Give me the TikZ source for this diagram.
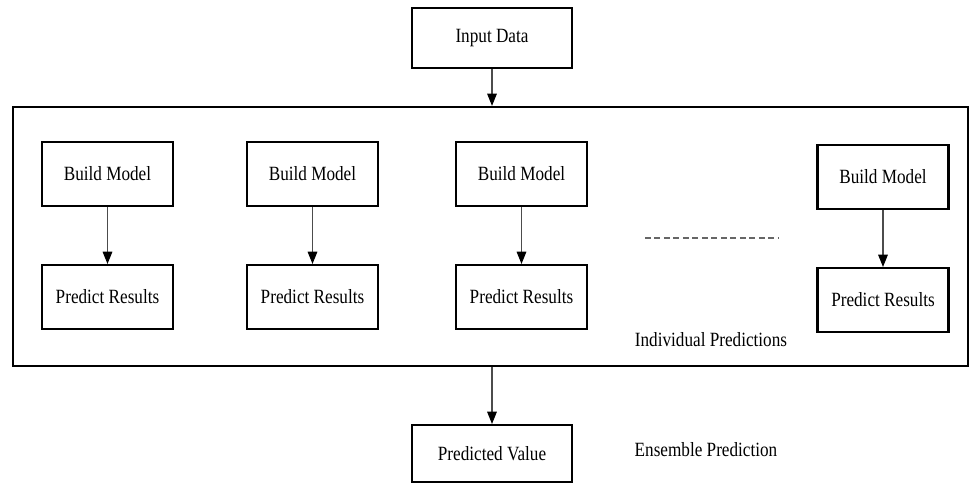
\documentclass[tikz,border=0pt]{standalone}
\usepackage{fontspec}
\setmainfont{Liberation Serif}[FakeStretch=0.85]
\usetikzlibrary{arrows.meta}

\tikzset{
	box/.style={draw, line width=1.2pt, fill=white, font=\fontsize{11.5}{13}\selectfont,
		minimum width=2.62cm, minimum height=1.28cm, inner sep=0pt},
	wide/.style={box, minimum width=3.2cm},
	arr/.style={draw=black!70, line width=0.6pt, -{Triangle[width=5.5pt,length=7pt,color=black]}},
	label/.style={font=\fontsize{11.5}{13}\selectfont, inner sep=0pt}
}

\begin{document}
\begin{tikzpicture}[x=0.02cm, y=-0.02cm]
	\useasboundingbox (0,0) rectangle (970,483);

	% outer frame
	\node[draw, line width=1.3pt, minimum width=19.1cm, minimum height=5.18cm, inner sep=0pt]
		(ens) at (490.5,236.5) { };

	\node[wide, minimum height=1.2cm] (input) at (492,38) {Input Data};
	\node[wide, minimum height=1.14cm] (value) at (492,453.5) {Predicted Value};

	% individual models
	\foreach \x/\y/\i in {107.5/174/1, 312.5/174/2, 521.5/174/3, 883/177/4}
	{
		\node[box] (build-\i) at (\x,\y) {Build Model};
		\node[box] (predict-\i) at (\x,\y+123) {Predict Results};
		\draw[arr] (build-\i) -- (predict-\i);
	}

	\coordinate (dots-a) at (645,238);
	\coordinate (dots-b) at (778,238);
	\draw[black!60, line width=0.9pt, dash pattern=on 3.3pt off 2.1pt] (dots-a) -- (dots-b);

	\node[label] (indiv) at (711,340) {Individual Predictions};
	\node[label] (ensemble) at (706,450) {Ensemble Prediction};

	\draw[arr] (input.south) -- (input.south |- ens.north);
	\draw[arr] (value.north |- ens.south) -- (value.north);
\end{tikzpicture}
\end{document}
